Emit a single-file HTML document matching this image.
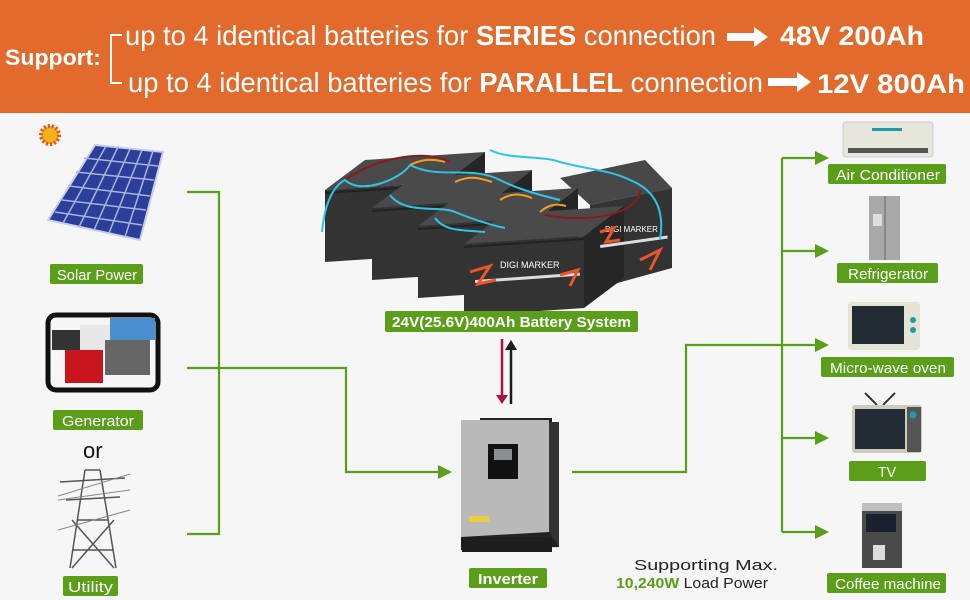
<!DOCTYPE html>
<html><head><meta charset="utf-8"><style>
html,body{margin:0;padding:0;background:#f6f6f6}
svg{display:block}
text{font-family:"Liberation Sans",sans-serif}
</style></head><body>
<svg width="970" height="600" viewBox="0 0 970 600" xmlns="http://www.w3.org/2000/svg">
<defs>
<g id="bat">
<polygon points="0,0 120,-8 160,-38 40,-30" fill="#4a4a4a"/>
<polygon points="120,-8 160,-38 160,34 120,64" fill="#262626"/>
<polygon points="0,0 120,-8 120,64 0,72" fill="#333"/>
<line x1="0" y1="3" x2="120" y2="-5" stroke="#222" stroke-width="2"/>
</g>
</defs>
<rect width="970" height="600" fill="#f6f6f6"/>
<!-- header -->
<rect width="970" height="113" fill="#e26a2c"/>
<text x="5" y="65" font-size="22" font-weight="bold" fill="#fff" textLength="96" lengthAdjust="spacingAndGlyphs">Support:</text>
<path d="M122 35 H111 V83 H122" fill="none" stroke="#fff" stroke-width="2"/>
<text x="125" y="45" font-size="28" fill="#fff" textLength="591" lengthAdjust="spacingAndGlyphs">up to 4 identical batteries for <tspan font-weight="bold">SERIES</tspan> connection</text>
<text x="128" y="92" font-size="28" fill="#fff" textLength="635" lengthAdjust="spacingAndGlyphs">up to 4 identical batteries for <tspan font-weight="bold">PARALLEL</tspan> connection</text>
<path d="M727 33 H754 V27 L768 37 L754 47 V41 H727Z" fill="#fff"/>
<path d="M768 78 H797 V72 L811 82 L797 92 V86 H768Z" fill="#fff"/>
<text x="780" y="45" font-size="27" font-weight="bold" fill="#fff" textLength="144" lengthAdjust="spacingAndGlyphs">48V 200Ah</text>
<text x="817" y="93" font-size="27" font-weight="bold" fill="#fff" textLength="148" lengthAdjust="spacingAndGlyphs">12V 800Ah</text>

<!-- connectors -->
<g fill="none" stroke="#5a9e1a" stroke-width="2.2">
<path d="M187 192 H219 V534 H187"/>
<path d="M187 368 H346 V472 H440"/>
<path d="M572 472 H686 V345 H782"/>
<path d="M782 158 V532"/>
<path d="M782 158 H818 M782 251 H818 M782 345 H818 M782 438 H818 M782 532 H818"/>
</g>
<g fill="#5a9e1a">
<path d="M438 465 L452 472 L438 479Z"/>
<path d="M815 151 L829 158 L815 165Z"/>
<path d="M815 244 L829 251 L815 258Z"/>
<path d="M815 338 L829 345 L815 352Z"/>
<path d="M815 431 L829 438 L815 445Z"/>
<path d="M815 525 L829 532 L815 539Z"/>
</g>
<!-- battery arrows -->
<line x1="502" y1="339" x2="502" y2="396" stroke="#b0103e" stroke-width="2.5"/>
<path d="M496 395 L508 395 L502 404Z" fill="#b0103e"/>
<line x1="511" y1="348" x2="511" y2="404" stroke="#1a1a1a" stroke-width="2.5"/>
<path d="M505 350 L517 350 L511 340Z" fill="#1a1a1a"/>

<!-- solar -->
<circle cx="50" cy="135" r="9" fill="#f2b21a" stroke="#e5501a" stroke-width="4" stroke-dasharray="2 2"/>
<polygon points="95,145 163,152 140,240 48,220" fill="#2b3f9a" stroke="#c9cde8" stroke-width="2"/>
<g stroke="#aab3dd" stroke-width="1.5">
<line x1="84" y1="158" x2="158" y2="166"/><line x1="76" y1="172" x2="154" y2="180"/><line x1="69" y1="186" x2="150" y2="196"/><line x1="62" y1="200" x2="146" y2="210"/><line x1="55" y1="212" x2="142" y2="225"/>
<line x1="106" y1="146" x2="63" y2="223"/><line x1="118" y1="147" x2="79" y2="227"/><line x1="130" y1="149" x2="94" y2="230"/><line x1="142" y1="150" x2="109" y2="233"/><line x1="153" y1="151" x2="125" y2="237"/>
</g>
<!-- generator -->
<rect x="48" y="315" width="110" height="75" rx="8" fill="none" stroke="#111" stroke-width="5"/>
<rect x="65" y="350" width="38" height="33" fill="#c8141c"/>
<rect x="80" y="325" width="40" height="25" fill="#e8e8e8"/>
<rect x="110" y="318" width="45" height="22" fill="#4a8fd0"/>
<rect x="105" y="340" width="45" height="35" fill="#666"/>
<rect x="52" y="330" width="28" height="20" fill="#333"/>
<!-- tower -->
<g stroke="#555" stroke-width="1.5" fill="none">
<path d="M85 470 L70 568 M100 470 L116 568 M85 470 H100 M78 520 L108 520 M73 550 H113 M72 520 L114 568 M114 520 L72 568 M60 482 L125 478 M66 500 L120 497"/>
<path d="M58 496 L130 474 M58 530 L130 510 M58 500 L130 490" stroke="#888" stroke-width="1"/>
</g>
<!-- left labels -->
<g fill="#5a9e1a">
<rect x="50" y="264" width="93" height="20" rx="2"/>
<rect x="53" y="410" width="90" height="20" rx="2"/>
<rect x="63" y="576" width="55" height="20" rx="2"/>
</g>
<g fill="#fff" font-size="15">
<text x="57" y="280" textLength="80" lengthAdjust="spacingAndGlyphs">Solar Power</text>
<text x="62" y="426" textLength="72" lengthAdjust="spacingAndGlyphs">Generator</text>
<text x="68" y="592" textLength="45" lengthAdjust="spacingAndGlyphs">Utility</text>
</g>
<text x="83" y="458" font-size="22" fill="#111">or</text>

<!-- batteries -->
<polygon points="560,178 645,160 672,188 590,205" fill="#484848"/>
<polygon points="590,205 672,188 672,268 592,290" fill="#333"/>
<use href="#bat" transform="translate(325,190)"/>
<use href="#bat" transform="translate(372,208)"/>
<use href="#bat" transform="translate(418,226)"/>
<use href="#bat" transform="translate(464,244)"/>
<g fill="#fff" font-size="9">
<text x="500" y="268">DIGI MARKER</text>
<text x="605" y="232" font-size="8">DIGI MARKER</text>
</g>
<rect x="475" y="280" width="105" height="3" fill="#ddd" transform="rotate(-4 475 280)"/>
<rect x="600" y="245" width="68" height="3" fill="#ddd" transform="rotate(-8 600 245)"/>
<path d="M470 272 L490 266 L478 284 L496 280" stroke="#e8562a" stroke-width="3" fill="none"/>
<path d="M560 275 L578 270 L570 286" stroke="#e8562a" stroke-width="3" fill="none"/>
<path d="M600 232 L614 228 L606 242 L620 240" stroke="#e8562a" stroke-width="3" fill="none"/>
<path d="M640 260 L660 250 L650 270" stroke="#e8562a" stroke-width="3" fill="none"/>
<g fill="none" stroke-width="2">
<path d="M345 180 C380 155 430 150 450 162" stroke="#8b1a1a"/>
<path d="M545 215 C600 225 640 210 640 190" stroke="#8b1a1a"/>
<path d="M322 232 C325 200 335 185 345 180 C360 195 400 180 410 165 M390 195 C405 215 440 205 455 212 C470 218 490 225 505 228 M435 218 C445 232 465 230 485 232 M410 165 C440 180 470 165 500 180 C520 190 540 195 560 200 M490 150 C510 160 540 155 560 162 C590 170 610 170 630 180 C655 190 665 210 660 240" stroke="#2ec4e6"/>
<path d="M410 165 C420 160 430 158 445 162 M455 182 C470 175 480 178 492 182 M500 200 C512 192 522 194 532 198 M540 212 C548 205 556 203 566 206" stroke="#f0a020"/>
</g>
<rect x="385" y="311" width="253" height="21" rx="2" fill="#5a9e1a"/>
<text x="392" y="327" font-size="15" font-weight="bold" fill="#fff" textLength="239" lengthAdjust="spacingAndGlyphs">24V(25.6V)400Ah Battery System</text>

<!-- inverter -->
<polygon points="480,418 552,418 552,422 480,422" fill="#222"/>
<rect x="461" y="420" width="88" height="117" fill="#b9b9b9"/>
<rect x="549" y="422" width="10" height="125" fill="#333"/>
<polygon points="461,537 549,532 559,547 461,550" fill="#222"/>
<rect x="462" y="537" width="90" height="15" fill="#1d1d1d"/>
<rect x="488" y="444" width="30" height="35" fill="#111"/>
<rect x="494" y="449" width="18" height="11" fill="#8a8f92"/>
<rect x="469" y="516" width="20" height="6" fill="#e8d040"/>
<rect x="469" y="568" width="78" height="20" rx="2" fill="#5a9e1a"/>
<text x="478" y="584" font-size="15" font-weight="bold" fill="#fff" textLength="60" lengthAdjust="spacingAndGlyphs">Inverter</text>
<text x="634" y="570" font-size="15" fill="#222" textLength="144" lengthAdjust="spacingAndGlyphs">Supporting Max.</text>
<text x="616" y="588" font-size="15" fill="#222" textLength="152" lengthAdjust="spacingAndGlyphs"><tspan fill="#5a9e1a" font-weight="bold">10,240W</tspan> Load Power</text>

<!-- appliances -->
<rect x="843" y="122" width="90" height="35" rx="3" fill="#e6e6dc" stroke="#ccc"/>
<rect x="872" y="128" width="30" height="3" fill="#1e9aa8"/>
<rect x="848" y="148" width="80" height="5" fill="#555"/>
<rect x="869" y="196" width="31" height="64" fill="#a8a8a8"/>
<line x1="885" y1="196" x2="885" y2="260" stroke="#666"/>
<rect x="873" y="214" width="9" height="12" fill="#ddd"/>
<rect x="848" y="302" width="72" height="48" rx="3" fill="#e4e4d4"/>
<rect x="852" y="306" width="52" height="38" fill="#222a33"/>
<circle cx="913" cy="320" r="3" fill="#1e9aa8"/><circle cx="913" cy="330" r="3" fill="#1e9aa8"/>
<path d="M865 393 L877 405 M895 393 L883 405" stroke="#333" stroke-width="2"/>
<rect x="852" y="405" width="70" height="48" rx="3" fill="#cccbbc"/>
<rect x="855" y="409" width="50" height="40" fill="#222a33"/>
<rect x="907" y="407" width="14" height="45" fill="#555"/>
<circle cx="913" cy="415" r="3.5" fill="#1e9aa8"/>
<rect x="862" y="503" width="40" height="65" fill="#4a4a4a"/>
<rect x="862" y="503" width="40" height="8" fill="#c0c0c0"/>
<rect x="866" y="514" width="30" height="18" fill="#1a2030"/>
<rect x="873" y="545" width="12" height="15" fill="#ddd"/>
<g fill="#5a9e1a">
<rect x="828" y="164" width="118" height="20" rx="2"/>
<rect x="837" y="263" width="101" height="20" rx="2"/>
<rect x="821" y="357" width="133" height="20" rx="2"/>
<rect x="849" y="461" width="77" height="20" rx="2"/>
<rect x="827" y="573" width="119" height="20" rx="2"/>
</g>
<g fill="#fff" font-size="15">
<text x="836" y="180" textLength="104" lengthAdjust="spacingAndGlyphs">Air Conditioner</text>
<text x="848" y="279" textLength="80" lengthAdjust="spacingAndGlyphs">Refrigerator</text>
<text x="830" y="373" textLength="116" lengthAdjust="spacingAndGlyphs">Micro-wave oven</text>
<text x="878" y="477" textLength="18" lengthAdjust="spacingAndGlyphs">TV</text>
<text x="835" y="589" textLength="106" lengthAdjust="spacingAndGlyphs">Coffee machine</text>
</g>
</svg>
</body></html>
